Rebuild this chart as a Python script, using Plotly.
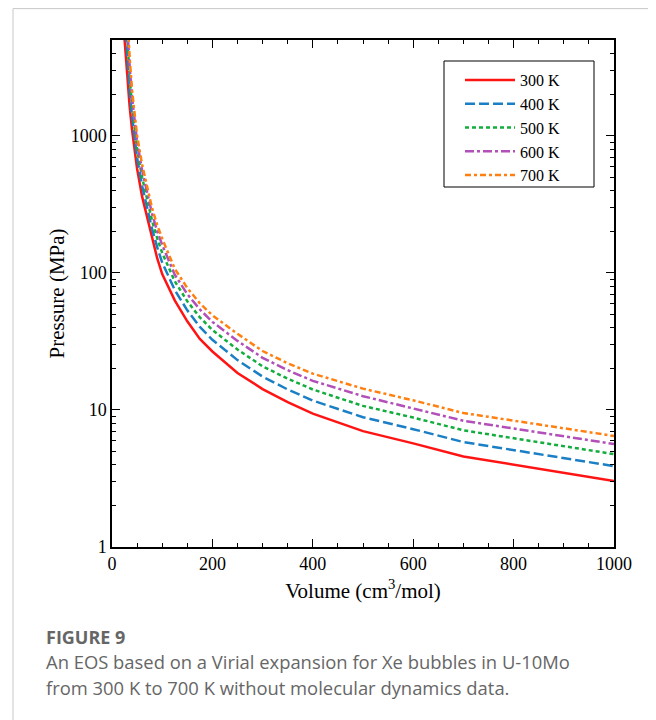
import plotly.graph_objects as go

volume = [20, 25, 30, 35, 40, 50, 60, 70, 80, 90, 100, 125, 150, 175, 200, 250, 300, 350, 400, 500, 600, 700, 1000]

p_300 = [8900, 5000, 2700, 1660, 1100, 575, 360, 251, 175, 128, 98, 63, 44.3, 33, 26.7, 18.6, 14.2, 11.4, 9.4, 7.0, 5.7, 4.58, 3.03]
p_400 = [14500, 7600, 3700, 2180, 1370, 690, 430, 297, 208, 154, 119, 75, 53.3, 40.3, 32.5, 23.1, 17.5, 14.1, 11.7, 8.85, 7.24, 5.83, 3.89]
p_500 = [22000, 10700, 4800, 2730, 1640, 800, 497, 340, 239, 179, 140, 87, 62, 47.4, 38.3, 27.6, 20.8, 16.9, 14.1, 10.7, 8.8, 7.1, 4.76]
p_600 = [30000, 14100, 5900, 3270, 1900, 905, 560, 380, 268, 202, 160, 97, 70, 54.1, 43.9, 31.9, 24, 19.5, 16.3, 12.6, 10.3, 8.34, 5.64]
p_700 = [40000, 17800, 7100, 3800, 2140, 1000, 617, 417, 295, 224, 178, 107, 77.6, 60, 49, 35.9, 26.9, 21.9, 18.4, 14.3, 11.75, 9.5, 6.46]

series_names = ["300 K", "400 K", "500 K", "600 K", "700 K"]
series_values = [p_300, p_400, p_500, p_600, p_700]
colors = ["#ff1414", "#1a7fc4", "#12ad3c", "#b24fb8", "#ff8010"]
dashes = ["solid", "10px,4px", "4px,3px", "9px,3px,3px,3px", "6px,3px,3px,3px"]

y_tickvals = [1, 10, 100, 1000]
y_ticktext = ["1", "10", "100", "1000"]

fig = go.Figure()
for name, vals, col, dsh in zip(series_names, series_values, colors, dashes):
    fig.add_trace(go.Scatter(x=volume, y=vals, mode="lines", name=name,
                             line=dict(color=col, width=2.5, dash=dsh)))

serif = "Liberation Serif"
# page body has an 8px margin; plot area on screen: x 112..614, y 40..547
W, H = 648, 712
L, R, T, B = 104, 42, 32, 173
pw, ph = W - L - R, H - T - B

def px_x(sx):
    return (sx - 112) / pw

def px_y(sy):
    return (547 - sy) / ph

minor_y = [v * m for m in (1, 10, 100, 1000) for v in range(2, 10)]

fig.update_layout(
    width=W, height=H,
    margin=dict(l=L, r=R, t=T, b=B),
    paper_bgcolor="white", plot_bgcolor="white",
    font=dict(family=serif, color="black", size=16),
    showlegend=True,
    legend=dict(x=px_x(460), y=px_y(63), xanchor="left", yanchor="top",
                bgcolor="rgba(0,0,0,0)", borderwidth=0,
                font=dict(family=serif, size=16, color="black"),
                itemwidth=50, tracegroupgap=0),
    xaxis=dict(range=[0, 1000], dtick=200, tick0=0, ticks="inside", ticklen=8,
               tickwidth=1.2, tickcolor="black", showline=True, linecolor="black",
               linewidth=1.5, mirror="ticks", showgrid=False, zeroline=False,
               tickfont=dict(family=serif, size=18),
               minor=dict(ticks="inside", ticklen=4, dtick=50, tick0=0, tickcolor="black", tickwidth=1.2),
               title=dict(text="Volume (cm<sup>3</sup>/mol)", font=dict(family=serif, size=21), standoff=10)),
    yaxis=dict(type="log", range=[0, 3.699], tickvals=y_tickvals, ticktext=y_ticktext,
               ticks="inside", ticklen=8, tickwidth=1.2, tickcolor="black",
               showline=True, linecolor="black", linewidth=1.5, mirror="ticks",
               showgrid=False, zeroline=False,
               tickfont=dict(family=serif, size=18),
               minor=dict(ticks="inside", ticklen=4, tickvals=minor_y, tickcolor="black", tickwidth=1.2),
               title=dict(text="Pressure (MPa)", font=dict(family=serif, size=21), standoff=0)),
    shapes=[
        dict(type="rect", xref="paper", yref="paper",
             x0=px_x(13), x1=px_x(700), y0=px_y(760), y1=px_y(8.6),
             line=dict(color="#c8c8c8", width=1), fillcolor="rgba(0,0,0,0)", layer="below"),
        dict(type="rect", xref="paper", yref="paper",
             x0=px_x(444), x1=px_x(594), y0=px_y(187), y1=px_y(61),
             line=dict(color="black", width=1), fillcolor="rgba(0,0,0,0)"),
    ],
    annotations=[
        dict(text="<b>FIGURE 9</b>", xref="paper", yref="paper", x=px_x(44), y=px_y(637),
             xanchor="left", yanchor="middle", showarrow=False,
             font=dict(family="Open Sans", size=18, color="#666666")),
        dict(text="An EOS based on a Virial expansion for Xe bubbles in U-10Mo",
             xref="paper", yref="paper", x=px_x(44), y=px_y(661),
             xanchor="left", yanchor="middle", showarrow=False,
             font=dict(family="Open Sans", size=18.4, color="#666666")),
        dict(text="from 300 K to 700 K without molecular dynamics data.",
             xref="paper", yref="paper", x=px_x(44), y=px_y(688),
             xanchor="left", yanchor="middle", showarrow=False,
             font=dict(family="Open Sans", size=18.4, color="#666666")),
    ],
)

fig.write_html("out.html")
